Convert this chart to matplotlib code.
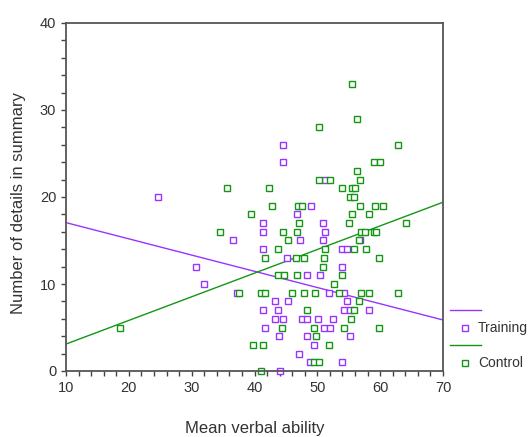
import matplotlib
matplotlib.use("Agg")
import matplotlib.pyplot as plt
import numpy as np
from matplotlib.lines import Line2D
from matplotlib.ticker import MultipleLocator

# Training group (mean verbal ability, number of details)
train_x = [44.5, 44.5, 51.2, 24.7, 49.0, 46.8, 41.3, 50.9, 41.3, 51.2,
           36.5, 47.3, 50.9, 56.8, 41.3, 53.9, 54.7, 45.1, 30.7, 53.9,
           48.3, 50.5, 32.0, 37.2, 51.9, 54.3, 43.2, 45.3, 54.7, 41.3,
           43.8, 54.2, 55.2, 58.3, 43.2, 44.5, 47.5, 48.3, 50.1, 52.5,
           41.7, 51.0, 52.0, 43.9, 48.3, 55.2, 49.4, 47.1, 48.8, 53.9,
           44.0]
train_y = [26, 24, 22, 20, 19, 18, 17, 17, 16, 16,
           15, 15, 15, 15, 14, 14, 14, 13, 12, 12,
           11, 11, 10, 9, 9, 9, 8, 8, 8, 7,
           7, 7, 7, 7, 6, 6, 6, 6, 6, 6,
           5, 5, 5, 4, 4, 4, 3, 2, 1, 1,
           0]

# Control group
ctrl_x = [55.5, 56.3, 50.3, 62.8, 59.0, 60.0, 56.3, 50.3, 52.0, 56.8,
          35.6, 42.3, 54.0, 55.5, 56.0, 55.2, 55.9, 42.8, 47.0, 47.6,
          56.8, 59.2, 60.4, 39.5, 55.5, 58.2, 47.1, 55.1, 64.1, 34.5,
          44.5, 46.8, 57.0, 57.6, 59.0, 59.3, 45.3, 56.6, 43.8, 51.2,
          55.9, 57.8, 41.6, 46.6, 47.9, 51.1, 59.8, 50.9, 43.8, 44.7,
          46.8, 54.0, 52.7, 37.5, 41.0, 41.6, 46.0, 47.9, 49.7, 53.5,
          57.0, 58.3, 62.8, 56.6, 48.3, 55.9, 55.3, 18.6, 44.3, 49.4,
          54.2, 59.8, 49.8, 39.8, 41.3, 51.8, 49.5, 50.2, 41.0]
ctrl_y = [33, 29, 28, 26, 24, 24, 23, 22, 22, 22,
          21, 21, 21, 21, 21, 20, 20, 19, 19, 19,
          19, 19, 19, 18, 18, 18, 17, 17, 17, 16,
          16, 16, 16, 16, 16, 16, 15, 15, 14, 14,
          14, 14, 13, 13, 13, 13, 13, 12, 11, 11,
          11, 11, 10, 9, 9, 9, 9, 9, 9, 9,
          9, 9, 9, 8, 7, 7, 6, 5, 5, 5,
          5, 5, 4, 3, 3, 3, 1, 1, 0]

# fitted lines (intercept, slope)
train_fit = (18.92, -0.1865)
ctrl_fit = (0.38, 0.2717)

PURPLE = "#9933ff"
GREEN = "#149614"
TEXT = "#333333"

plt.rcParams.update({
    "font.family": ["Liberation Sans", "DejaVu Sans"],
    "font.size": 10.5,
    "text.color": TEXT,
    "axes.labelcolor": TEXT,
    "xtick.color": "#444444",
    "ytick.color": "#444444",
    "xtick.labelcolor": TEXT,
    "ytick.labelcolor": TEXT,
})

fig = plt.figure(figsize=(5.28, 4.37), dpi=100)
ax = fig.add_axes([66 / 528, 66 / 437, 377 / 528, 348 / 437])

line_x = np.array([10, 70])
ax.plot(line_x, train_fit[0] + train_fit[1] * line_x, color=PURPLE, linewidth=1.0)
ax.plot(line_x, ctrl_fit[0] + ctrl_fit[1] * line_x, color=GREEN, linewidth=1.0)

ax.plot(train_x, train_y, linestyle="none", marker="s", markersize=4.2,
        markerfacecolor="white", markeredgecolor=PURPLE, markeredgewidth=1.0, clip_on=False)
ax.plot(ctrl_x, ctrl_y, linestyle="none", marker="s", markersize=4.2,
        markerfacecolor="white", markeredgecolor=GREEN, markeredgewidth=1.0, clip_on=False)

ax.set_xlim(10, 70)
ax.set_ylim(0, 40)
ax.xaxis.set_major_locator(MultipleLocator(10))
ax.xaxis.set_minor_locator(MultipleLocator(2))
ax.yaxis.set_major_locator(MultipleLocator(10))
ax.yaxis.set_minor_locator(MultipleLocator(2))
ax.tick_params(which="both", direction="out", length=3.5, width=1.0)
for spine in ax.spines.values():
    spine.set_color("#555555")
    spine.set_linewidth(1.3)

ax.set_xlabel("Mean verbal ability", fontsize=12, labelpad=19)
ax.set_ylabel("Number of details in summary", fontsize=12)
ax.yaxis.set_label_coords(-0.106, 0.483)

handles = [
    Line2D([], [], color=PURPLE, linewidth=1.0),
    Line2D([], [], linestyle="none", marker="s", markersize=4.2,
           markerfacecolor="white", markeredgecolor=PURPLE, markeredgewidth=1.0),
    Line2D([], [], color=GREEN, linewidth=1.0),
    Line2D([], [], linestyle="none", marker="s", markersize=4.2,
           markerfacecolor="white", markeredgecolor=GREEN, markeredgewidth=1.0),
]
labels = [" ", "Training", " ", "Control"]
fig.legend(handles, labels, loc="upper left", bbox_to_anchor=(450 / 528, 1 - 304 / 437),
           frameon=False, fontsize=10, handlelength=2.2, handletextpad=-0.2,
           labelspacing=0.25, borderpad=0, borderaxespad=0)

fig.savefig("out.png", dpi=100)
